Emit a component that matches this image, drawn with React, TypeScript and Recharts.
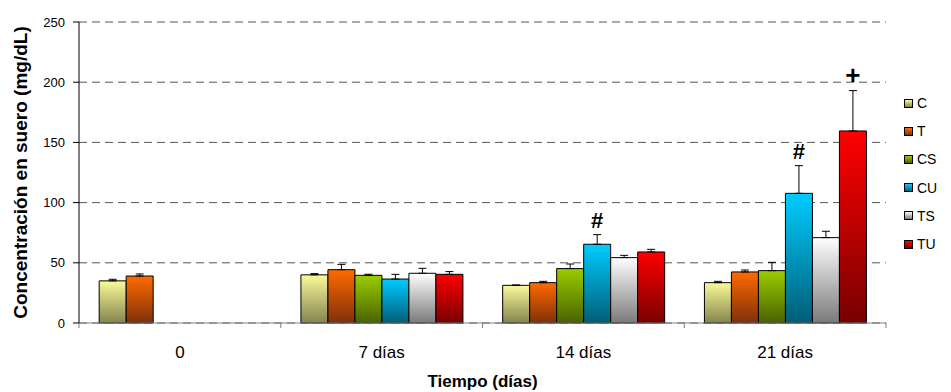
import React from 'react';
import { BarChart, Bar, XAxis, YAxis, CartesianGrid, ErrorBar, Legend, LabelList } from 'recharts';

const categories = ['0', '7 días', '14 días', '21 días'];
const seriesNames = ['C', 'T', 'CS', 'CU', 'TS', 'TU'];

const valC = [35, 40, 31.3, 33.5];
const valT = [39, 44.3, 33.5, 42.4];
const valCS = [null, 39.6, 45.2, 43.5];
const valCU = [null, 36.5, 65.4, 107.7];
const valTS = [null, 41.3, 54.3, 70.9];
const valTU = [null, 40.4, 59, 159.5];

const errC = [1.3, 1, 0.3, 1.1];
const errT = [1.7, 4.4, 1.1, 1.6];
const errCS = [null, 0.9, 3.8, 6.9];
const errCU = [null, 3.9, 8, 23];
const errTS = [null, 4.1, 1.9, 5.3];
const errTU = [null, 2.3, 2.2, 33.5];

const markCU = [null, null, '#', '#'];
const markTU = [null, null, null, '+'];

const yTicks = [0, 50, 100, 150, 200, 250];

const values: Record<string, (number | null)[]> = { C: valC, T: valT, CS: valCS, CU: valCU, TS: valTS, TU: valTU };
const errors: Record<string, (number | null)[]> = { C: errC, T: errT, CS: errCS, CU: errCU, TS: errTS, TU: errTU };
const marks: Record<string, (string | null)[]> = { CU: markCU, TU: markTU };

const colors: Record<string, [string, string]> = {
  C: ['#FAFA9A', '#84844E'],
  T: ['#FF6A00', '#7E300A'],
  CS: ['#9ACC00', '#4A6200'],
  CU: ['#00CCFF', '#005E78'],
  TS: ['#FFFFFF', '#7A7A7A'],
  TU: ['#FF0000', '#780000'],
};

const data = categories.map((cat, i) => {
  const row: any = { name: cat };
  seriesNames.forEach((s) => {
    row[s] = values[s][i];
    const e = errors[s][i];
    row[s + '_err'] = e == null ? null : [0, e];
    if (marks[s]) {
      const m = marks[s][i];
      row[s + '_mark'] = m ? { m, v: values[s][i], e: e || 0 } : null;
    }
  });
  return row;
});

const FONT = '"Liberation Sans", Arial, sans-serif';
const W = 951;
const H = 392;
const M = { top: 22, right: 65, bottom: 39, left: 0 };
const Y_W = 79;
const PLOT_W = W - Y_W - M.right;
const BAND = PLOT_W / categories.length;

const XTick = (props: any) => {
  const { x, y, payload, index } = props;
  const bx = x - BAND / 2;
  const axisY = y - 8;
  return (
    <g>
      <line x1={bx} y1={axisY} x2={bx} y2={axisY + 5} stroke="#808080" />
      {index === categories.length - 1 && (
        <line x1={x + BAND / 2} y1={axisY} x2={x + BAND / 2} y2={axisY + 5} stroke="#808080" />
      )}
      <text x={x} y={y + 27} textAnchor="middle" fontFamily={FONT} fontSize={17} fill="#000">
        {payload.value}
      </text>
    </g>
  );
};

const Marker = (props: any) => {
  const { x, y, width, height, value } = props;
  if (!value || typeof value !== 'object' || !value.m || !value.v) return null;
  const ppu = height / value.v;
  const top = y - value.e * ppu;
  return (
    <text x={x + width / 2} y={top - 7} textAnchor="middle" fontFamily={FONT} fontWeight="bold" fontSize={value.m === '+' ? 26 : 22} fill="#000">
      {value.m}
    </text>
  );
};

const LegendContent = () => (
  <div style={{ fontFamily: FONT, fontSize: 14, color: '#000' }}>
    {seriesNames.map((s) => (
      <div key={s} style={{ display: 'flex', alignItems: 'center', height: 28.2 }}>
        <div
          style={{
            width: 7,
            height: 7,
            border: '1px solid #000',
            background: `linear-gradient(to bottom, ${colors[s][0]}, ${colors[s][1]})`,
            marginRight: 4,
          }}
        />
        <span>{s}</span>
      </div>
    ))}
  </div>
);

export default function App() {
  return (
    <div style={{ position: 'absolute', left: 0, top: 0, width: W, height: H, background: '#fff' }}>
      <BarChart width={W} height={H} data={data} margin={M} barCategoryGap="10%" barGap={0}>
        <defs>
          {seriesNames.map((s) => (
            <linearGradient key={s} id={'grad' + s} x1="0" y1="0" x2="0" y2="1">
              <stop offset="0%" stopColor={colors[s][0]} />
              <stop offset="100%" stopColor={colors[s][1]} />
            </linearGradient>
          ))}
        </defs>
        <CartesianGrid vertical={false} stroke="#555" strokeDasharray="8 5" />
        <XAxis
          dataKey="name"
          stroke="#808080"
          tickLine={false}
          tick={<XTick />}
          height={30}
          interval={0}
          label={(p: any) => {
            const vb = p.viewBox;
            return (
              <text x={vb.x + vb.width / 2} y={vb.y + 64} textAnchor="middle" fontFamily={FONT} fontWeight="bold" fontSize={17} fill="#000">
                Tiempo (días)
              </text>
            );
          }}
        />
        <YAxis
          width={Y_W}
          domain={[0, 250]}
          ticks={yTicks}
          interval={0}
          stroke="#000"
          tickSize={6}
          tickMargin={8}
          tick={{ fontFamily: FONT, fontSize: 13, fill: '#000' }}
          label={(p: any) => {
            const vb = p.viewBox;
            const cx = vb.x + 20;
            const cy = vb.y + vb.height / 2;
            return (
              <text x={cx} y={cy} transform={`rotate(-90 ${cx} ${cy})`} textAnchor="middle" dominantBaseline="central" fontFamily={FONT} fontWeight="bold" fontSize={19} fill="#000">
                Concentración en suero (mg/dL)
              </text>
            );
          }}
        />
        <Legend
          layout="vertical"
          align="center"
          verticalAlign="middle"
          content={<LegendContent />}
          wrapperStyle={{ left: 904, top: 89, width: 45, height: 175 }}
        />
        {seriesNames.map((s) => (
          <Bar key={s} dataKey={s} fill={`url(#grad${s})`} stroke="#000" strokeWidth={1} isAnimationActive={false}>
            <ErrorBar dataKey={s + '_err'} direction="y" width={4} stroke="#000" strokeWidth={1} isAnimationActive={false} />
            {marks[s] && <LabelList dataKey={s + '_mark'} content={<Marker />} />}
          </Bar>
        ))}
      </BarChart>
    </div>
  );
}
